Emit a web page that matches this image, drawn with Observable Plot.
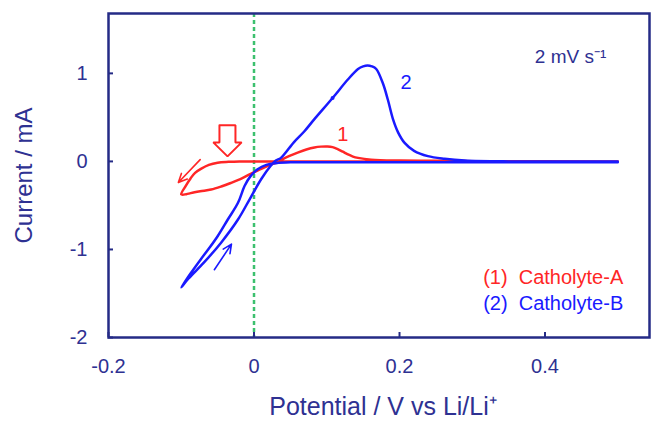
<!DOCTYPE html>
<html><head><meta charset="utf-8">
<script src="https://cdn.jsdelivr.net/npm/d3@7"></script>
<script src="https://cdn.jsdelivr.net/npm/@observablehq/plot@0.6"></script>
<style>body{margin:0;background:#fff;}</style>
</head><body><div id="chart"></div>
<script>
// ---- data ----
const xTicks = [-0.2, 0, 0.2, 0.4];
const yTicks = [-2, -1, 0, 1];

// Catholyte-A (curve 1), potential V and current mA, in scan order
const catholyteA_V = [0.50, 0.30, 0.10, 0.03, 0.00, -0.02, -0.035, -0.050, -0.062, -0.073, -0.081, -0.087, -0.094, -0.100,
  -0.093, -0.087, -0.074, -0.059, -0.045, -0.032, -0.016, -0.002, 0.010, 0.019, 0.027, 0.033, 0.037, 0.048, 0.060, 0.072, 0.083, 0.092, 0.101, 0.108, 0.115, 0.122, 0.129, 0.136, 0.143, 0.161, 0.20, 0.25, 0.30, 0.50];
const catholyteA_I = [0.00, 0.00, 0.00, 0.00, 0.00, 0.00, -0.005, -0.015, -0.040, -0.085, -0.130, -0.190, -0.280, -0.375,
  -0.372, -0.360, -0.340, -0.320, -0.285, -0.245, -0.190, -0.130, -0.085, -0.050, -0.025, -0.008, 0.015, 0.060, 0.100, 0.135, 0.158, 0.168, 0.170, 0.162, 0.140, 0.110, 0.080, 0.055, 0.040, 0.020, 0.010, 0.008, 0.003, 0.00];

// Catholyte-B (curve 2)
const catholyteB_V = [0.50, 0.40, 0.30, 0.20, 0.10, 0.05, 0.030, 0.017, 0.005, -0.005, -0.013, -0.022, -0.036, -0.050, -0.062, -0.073, -0.087, -0.100,
  -0.090, -0.069, -0.045, -0.022, -0.006, 0.010, 0.023, 0.030, 0.037, 0.055, 0.069, 0.083, 0.108, 0.129, 0.143, 0.150, 0.156, 0.162, 0.168, 0.177, 0.184, 0.191, 0.198, 0.207, 0.220, 0.239, 0.262, 0.290, 0.350, 0.50];
const catholyteB_I = [-0.01, -0.01, -0.01, -0.01, -0.01, -0.01, -0.02, -0.04, -0.09, -0.17, -0.28, -0.47, -0.66, -0.85, -0.99, -1.11, -1.27, -1.43,
  -1.33, -1.15, -0.92, -0.66, -0.43, -0.20, -0.05, 0.01, 0.04, 0.22, 0.34, 0.48, 0.72, 0.93, 1.05, 1.08, 1.09, 1.08, 1.05, 0.89, 0.70, 0.48, 0.33, 0.21, 0.12, 0.06, 0.03, 0.01, 0.00, 0.00];

// annotations
const curveLabels = ["1", "2"];
const curveLabelV = [0.122, 0.209];
const curveLabelI = [0.31, 0.89];
const legendTexts = ["(1)\u00a0\u00a0Catholyte-A", "(2)\u00a0\u00a0Catholyte-B"];
const legendV = [0.315, 0.315];
const legendI = [-1.32, -1.61];
const rateText = "2 mV s\u207B\u00B9";
const rateV = 0.386, rateI = 1.19;
// direction arrows [V1, I1, V2, I2]
const redArrow = [-0.074, 0.02, -0.104, -0.24];
const blueArrow = [-0.0545, -1.23, -0.031, -0.94];
// outlined block arrow marking nucleation region
const blockV = [-0.0475, -0.0255, -0.0255, -0.0170, -0.0364, -0.0560, -0.0475, -0.0475];
const blockI = [0.41, 0.41, 0.216, 0.216, 0.057, 0.216, 0.216, 0.41];
const markerV = 0.108, markerI = 0.72;

// ---- build ----
const navy = "#252b86";
const textNavy = "#2e3192";
const red = "#ff2626";
const blue = "#1a1aff";
const green = "#3cc06e";

const A = catholyteA_V.map((v, i) => ({v, i: catholyteA_I[i]}));
const B = catholyteB_V.map((v, i) => ({v, i: catholyteB_I[i]}));
const labels = curveLabels.map((t, k) => ({t, v: curveLabelV[k], i: curveLabelI[k], c: k === 0 ? red : blue}));
const legend = legendTexts.map((t, k) => ({t, v: legendV[k], i: legendI[k], c: k === 0 ? red : blue}));
const block = blockV.map((v, k) => ({v, i: blockI[k]}));
const arrows = [
  {x1: redArrow[0], y1: redArrow[1], x2: redArrow[2], y2: redArrow[3], c: red},
  {x1: blueArrow[0], y1: blueArrow[1], x2: blueArrow[2], y2: blueArrow[3], c: blue}
];
const fmt = d => String(d);

const chart = Plot.plot({
  width: 652,
  height: 421,
  marginLeft: 108,
  marginRight: 3,
  marginTop: 13,
  marginBottom: 84,
  style: {fontFamily: "Liberation Sans, Arial, Helvetica, sans-serif", background: "#fff"},
  x: {domain: [-0.2, 0.5436]},
  y: {domain: [-2, 1.68]},
  marks: [
    Plot.ruleX([0], {stroke: green, strokeWidth: 2.5, strokeDasharray: "4,3"}),
    Plot.line(A, {x: "v", y: "i", stroke: red, strokeWidth: 2.5, curve: "catmull-rom"}),
    Plot.line(B, {x: "v", y: "i", stroke: blue, strokeWidth: 2.5, curve: "catmull-rom"}),
    Plot.dot([{v: markerV, i: markerI}], {x: "v", y: "i", r: 2, fill: blue}),
    Plot.line(block, {x: "v", y: "i", stroke: red, strokeWidth: 2, strokeLinejoin: "miter"}),
    Plot.arrow(arrows, {x1: "x1", y1: "y1", x2: "x2", y2: "y2", stroke: "c", strokeWidth: 1.6, headLength: 9, headAngle: 50}),
    Plot.text(labels, {x: "v", y: "i", text: "t", fill: "c", fontSize: 20}),
    Plot.text(legend, {x: "v", y: "i", text: "t", fill: "c", fontSize: 20, textAnchor: "start"}),
    Plot.text([rateText], {x: () => rateV, y: () => rateI, text: d => d, fill: textNavy, fontSize: 19, textAnchor: "start"}),
    Plot.frame({stroke: navy, strokeWidth: 2.5}),
    Plot.axisX(xTicks, {tickSize: -5, tickPadding: 26, fontSize: 20, color: textNavy, stroke: navy, strokeWidth: 2, tickFormat: fmt, label: null}),
    Plot.axisY(yTicks, {tickSize: -5, tickPadding: 26, fontSize: 20, color: textNavy, stroke: navy, strokeWidth: 2, tickFormat: fmt, label: null}),
    Plot.text(["Potential / V vs Li/Li\u207A"], {frameAnchor: "bottom", dy: 69, dx: 4, text: d => d, fill: textNavy, fontSize: 25, lineAnchor: "middle", textAnchor: "middle"}),
    Plot.text(["Current / mA"], {frameAnchor: "left", dx: -84, rotate: -90, text: d => d, fill: textNavy, fontSize: 24, lineAnchor: "middle", textAnchor: "middle"})
  ]
});
document.getElementById("chart").appendChild(chart);
</script>
</body></html>
